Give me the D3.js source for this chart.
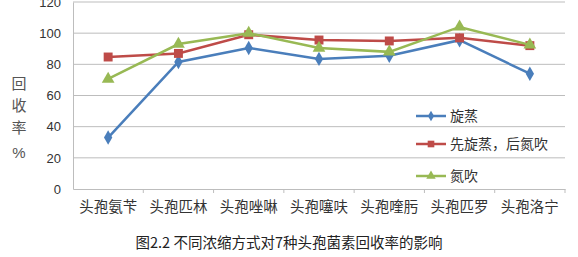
<!DOCTYPE html>
<html>
<head>
<meta charset="utf-8">
<script src="https://cdn.jsdelivr.net/npm/d3@7/dist/d3.min.js"></script>
<style>
  html, body { margin: 0; padding: 0; background: #fff; }
  svg { display: block; }
</style>
</head>
<body>
<svg id="chart" width="578" height="257"></svg>
<script>
const categories = ['头孢氨苄', '头孢匹林', '头孢唑啉', '头孢噻呋', '头孢喹肟', '头孢匹罗', '头孢洛宁'];
const rotaryEvap = [33, 81.5, 90.5, 83.5, 85.5, 95.5, 74];
const evapThenN2 = [84.7, 87, 99, 95.6, 95, 97, 92];
const nitrogenBlow = [70.6, 93, 100, 90.5, 88, 104, 92.5];
const yTicks = [0, 20, 40, 60, 80, 100, 120];

const series = [
  { name: '旋蒸', values: rotaryEvap, color: '#4A7EBB', shape: d3.symbolDiamond, size: 60 },
  { name: '先旋蒸，后氮吹', values: evapThenN2, color: '#BE4B48', shape: d3.symbolSquare, size: 80 },
  { name: '氮吹', values: nitrogenBlow, color: '#98B954', shape: d3.symbolTriangle, size: 70 },
];

const svg = d3.select('#chart');
const margin = { top: 2, right: 13, bottom: 68, left: 73 };
const W = 578, H = 257;
const innerW = W - margin.left - margin.right;
const innerH = H - margin.top - margin.bottom;

const x = d3.scaleBand().domain(categories).range([0, innerW]);
const y = d3.scaleLinear().domain([0, 120]).range([innerH, 0]);

const g = svg.append('g').attr('transform', `translate(${margin.left},${margin.top})`);

// gridlines
g.append('g').selectAll('line').data(yTicks.filter(d => d > 0)).join('line')
  .attr('x1', 0).attr('x2', innerW)
  .attr('y1', d => y(d)).attr('y2', d => y(d))
  .attr('stroke', '#bdbdbd').attr('stroke-width', 1);

// y axis
g.append('g')
  .call(d3.axisLeft(y).tickValues(yTicks).tickSize(0).tickPadding(12))
  .call(a => a.select('.domain').attr('stroke', '#bdbdbd'))
  .call(a => a.selectAll('text')
    .attr('font-family', '"Liberation Sans", Arial, sans-serif')
    .attr('font-size', 13).attr('fill', '#333'));

// x axis
g.append('g')
  .attr('transform', `translate(0,${innerH})`)
  .call(d3.axisBottom(x).tickSize(0).tickPadding(13))
  .call(a => a.select('.domain').attr('stroke', '#bdbdbd'))
  .call(a => a.selectAll('text')
    .attr('font-family', '"Noto Sans CJK SC", sans-serif')
    .attr('font-size', 14.5).attr('fill', '#333'));

// category boundary ticks
g.append('g').selectAll('line').data(categories).join('line')
  .attr('x1', d => x(d) + x.bandwidth()).attr('x2', d => x(d) + x.bandwidth())
  .attr('y1', innerH).attr('y2', innerH + 4)
  .attr('stroke', '#bdbdbd');

const line = d3.line()
  .x((d, i) => x(categories[i]) + x.bandwidth() / 2)
  .y(d => y(d));

series.forEach(s => {
  g.append('path')
    .attr('d', line(s.values))
    .attr('fill', 'none')
    .attr('stroke', s.color)
    .attr('stroke-width', 2.5);
  g.append('g').selectAll('path').data(s.values).join('path')
    .attr('transform', (d, i) => `translate(${x(categories[i]) + x.bandwidth() / 2},${y(d)})`)
    .attr('d', d3.symbol().type(s.shape).size(s.size))
    .attr('fill', s.color);
});

// legend
const legendY = [116, 144, 176];
const legend = svg.append('g');
series.forEach((s, i) => {
  const row = legend.append('g').attr('transform', `translate(416,${legendY[i]})`);
  row.append('line').attr('x1', 0).attr('x2', 30).attr('stroke', s.color).attr('stroke-width', 2.5);
  row.append('path').attr('transform', 'translate(15,0)')
    .attr('d', d3.symbol().type(s.shape).size(s.size * 0.55)).attr('fill', s.color);
  row.append('text').attr('x', 34).attr('y', 5)
    .attr('font-family', '"Noto Sans CJK SC", sans-serif')
    .attr('font-size', 14).attr('fill', '#333').text(s.name);
});

// y title (vertical stacked)
const yTitle = ['回', '收', '率', '%'];
const yTitleY = [89, 111, 133, 158];
yTitle.forEach((c, i) => {
  svg.append('text').attr('x', 19).attr('y', yTitleY[i]).attr('text-anchor', 'middle')
    .attr('font-family', c === '%' ? '"Liberation Sans", Arial, sans-serif' : '"Noto Sans CJK SC", sans-serif')
    .attr('font-size', 15).attr('fill', '#555').text(c);
});

// caption
svg.append('text').attr('x', 289).attr('y', 248).attr('text-anchor', 'middle')
  .attr('font-family', '"Noto Sans CJK SC", sans-serif')
  .attr('font-size', 14.5).attr('fill', '#222')
  .text('图2.2 不同浓缩方式对7种头孢菌素回收率的影响');
</script>
</body>
</html>
